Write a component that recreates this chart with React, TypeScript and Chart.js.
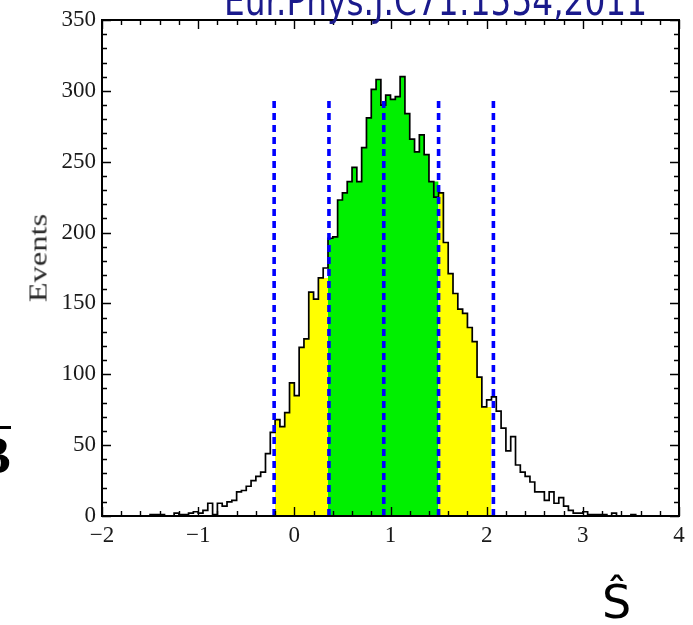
import React, { useEffect, useRef } from "react";
import { Chart, registerables } from "chart.js";

Chart.register(...registerables);

// ---- data ----
const binStart = -2;
const binWidth = 0.05;
// events per bin, bins of width 0.05 starting at -2 (120 bins up to 4)
const counts = [
  0, 0, 0, 0, 0, 0, 0, 0, 0, 0, 0,
  1, 1, 1, 0, 0, 2, 1, 1, 2, 3, 2,
  4, 9, 1, 9, 7, 10, 11, 17, 18, 21, 25, 28, 31, 44,
  59, 68, 63, 73, 94, 85, 119, 125, 158, 153, 168,
  175, 196, 197, 223, 228, 236, 246, 236, 260, 281, 301, 308, 290, 297, 294, 296, 310, 284, 266, 257, 269, 255, 236,
  225, 228, 193, 171, 157, 146, 143, 133, 123, 98, 77,
  82, 84, 74, 62, 46, 56, 36, 31, 28, 24, 17, 17, 11, 17, 9, 13, 7, 4, 2, 2, 3, 1, 1, 1, 1, 0, 2, 0, 0, 0, 1,
  0, 0, 0, 0, 0, 0, 0, 0,
];
const bandCentre = 0.93;
const bandSigma = 0.57;
const bandMultiples = [-2, -1, 0, 1, 2];
const dashTop = 296;
const xTickValues = [-2, -1, 0, 1, 2, 3, 4];
const yTickValues = [0, 50, 100, 150, 200, 250, 300, 350];
const titleText = "Eur.Phys.J.C71:1554,2011";
const yAxisTitle = "Events";
const xAxisSymbol = "Ŝ";
const sideLetter = "B";

type Pt = { x: number; y: number };

function stepPoints(keep: (mid: number) => boolean): Pt[] {
  const pts: Pt[] = [];
  let last: Pt | null = null;
  counts.forEach((c, i) => {
    const lo = +(binStart + i * binWidth).toFixed(4);
    const mid = lo + binWidth / 2;
    if (keep(mid)) {
      pts.push({ x: lo, y: c });
      last = { x: +(lo + binWidth).toFixed(4), y: c };
    }
  });
  if (last) pts.push(last);
  return pts;
}

const bandPos = bandMultiples.map((m) => +(bandCentre + m * bandSigma).toFixed(4));

const framePlugin = {
  id: "frameTicks",
  afterDraw(chart: any) {
    const { ctx, chartArea: a, scales } = chart;
    const xs = scales.x;
    const ys = scales.y;
    ctx.save();
    ctx.strokeStyle = "#000";
    ctx.lineWidth = 1.4;
    ctx.beginPath();
    for (let i = 0; i <= 30; i++) {
      const v = -2 + i * 0.2;
      const px = Math.round(xs.getPixelForValue(v)) + 0.5;
      const len = i % 5 === 0 ? 9 : 5;
      ctx.moveTo(px, a.bottom);
      ctx.lineTo(px, a.bottom - len);
      ctx.moveTo(px, a.top);
      ctx.lineTo(px, a.top + len);
    }
    for (let i = 0; i <= 35; i++) {
      const v = i * 10;
      const py = Math.round(ys.getPixelForValue(v)) + 0.5;
      const len = i % 5 === 0 ? 9 : 5;
      ctx.moveTo(a.left, py);
      ctx.lineTo(a.left + len, py);
      ctx.moveTo(a.right, py);
      ctx.lineTo(a.right - len, py);
    }
    ctx.stroke();
    ctx.lineWidth = 2;
    ctx.strokeRect(a.left, a.top, a.right - a.left, a.bottom - a.top);
    ctx.restore();
  },
};

export default function App() {
  const canvasRef = useRef<HTMLCanvasElement | null>(null);

  useEffect(() => {
    if (!canvasRef.current) return;
    const fillBase = {
      fill: "origin",
      borderWidth: 0,
      borderColor: "rgba(0,0,0,0)",
      stepped: "after",
      pointRadius: 0,
      order: 3,
    };
    const datasets: any[] = [
      { ...fillBase, data: stepPoints((m) => m > bandPos[0] && m < bandPos[1]), backgroundColor: "#ffff00" },
      { ...fillBase, data: stepPoints((m) => m > bandPos[1] && m < bandPos[3]), backgroundColor: "#00f000" },
      { ...fillBase, data: stepPoints((m) => m > bandPos[3] && m < bandPos[4]), backgroundColor: "#ffff00" },
      {
        data: stepPoints(() => true),
        fill: false,
        borderColor: "#000",
        borderWidth: 1.7,
        stepped: "after",
        pointRadius: 0,
        order: 2,
      },
      ...bandPos.map((p) => ({
        data: [
          { x: p, y: 0 },
          { x: p, y: dashTop },
        ],
        fill: false,
        borderColor: "#0000ff",
        borderWidth: 3.6,
        borderDash: [7, 5],
        borderCapStyle: "butt",
        pointRadius: 0,
        order: 1,
      })),
    ];

    const tickFont = { family: "'Liberation Serif', serif", size: 23 };
    const chart = new Chart(canvasRef.current, {
      type: "line",
      data: { datasets },
      options: {
        responsive: false,
        animation: false,
        events: [],
        layout: { padding: { top: 20, right: 14, left: 0, bottom: 0 } },
        plugins: { legend: { display: false }, tooltip: { enabled: false } },
        scales: {
          x: {
            type: "linear",
            min: -2,
            max: 4,
            grid: { display: false, drawTicks: false },
            border: { display: false },
            ticks: {
              padding: 6,
              font: tickFont,
              color: "#1a1a1a",
              maxRotation: 0,
              callback: (v: any) => String(v).replace("-", "\u2212"),
            },
            afterBuildTicks: (s: any) => {
              s.ticks = xTickValues.map((v) => ({ value: v }));
            },
            afterFit: (s: any) => {
              s.height = 109;
            },
          },
          y: {
            type: "linear",
            min: 0,
            max: 350,
            grid: { display: false, drawTicks: false },
            border: { display: false },
            ticks: { padding: 6, font: tickFont, color: "#1a1a1a" },
            afterBuildTicks: (s: any) => {
              s.ticks = yTickValues.map((v) => ({ value: v }));
            },
            afterFit: (s: any) => {
              s.width = 102;
            },
          },
        },
      } as any,
      plugins: [framePlugin],
    });
    return () => chart.destroy();
  }, []);

  return (
    <div
      style={{
        position: "absolute",
        left: 0,
        top: 0,
        width: 693,
        height: 625,
        overflow: "hidden",
        background: "#fff",
      }}
    >
      <canvas ref={canvasRef} width={693} height={625} style={{ display: "block" }} />
      <div
        style={{
          position: "absolute",
          left: 224,
          top: -19,
          fontFamily: "'DejaVu Sans', sans-serif",
          fontSize: 40,
          lineHeight: "40px",
          color: "#1a1a8c",
          whiteSpace: "nowrap",
          transform: "scaleX(0.82)",
          transformOrigin: "0 0",
        }}
      >
        {titleText}
      </div>
      <div
        style={{
          position: "absolute",
          left: 38,
          top: 258,
          width: 0,
          height: 0,
        }}
      >
        <div
          style={{
            position: "absolute",
            left: 0,
            top: 0,
            fontFamily: "'Liberation Serif', serif",
            fontSize: 25,
            lineHeight: "25px",
            color: "#2a2a2a",
            whiteSpace: "nowrap",
            transform: "translate(-50%, -50%) rotate(-90deg) scaleX(1.3)",
          }}
        >
          {yAxisTitle}
        </div>
      </div>
      <div
        style={{
          position: "absolute",
          left: -24,
          top: 430,
          fontFamily: "'Liberation Serif', serif",
          fontWeight: "bold",
          fontSize: 52,
          lineHeight: "52px",
          color: "#000",
        }}
      >
        {sideLetter}
      </div>
      <div style={{ position: "absolute", left: 0, top: 426, width: 11, height: 3, background: "#000" }} />
      <div
        style={{
          position: "absolute",
          left: 602,
          top: 579,
          fontFamily: "'DejaVu Sans', sans-serif",
          fontSize: 46,
          lineHeight: "46px",
          color: "#000",
        }}
      >
        {xAxisSymbol}
      </div>
    </div>
  );
}
